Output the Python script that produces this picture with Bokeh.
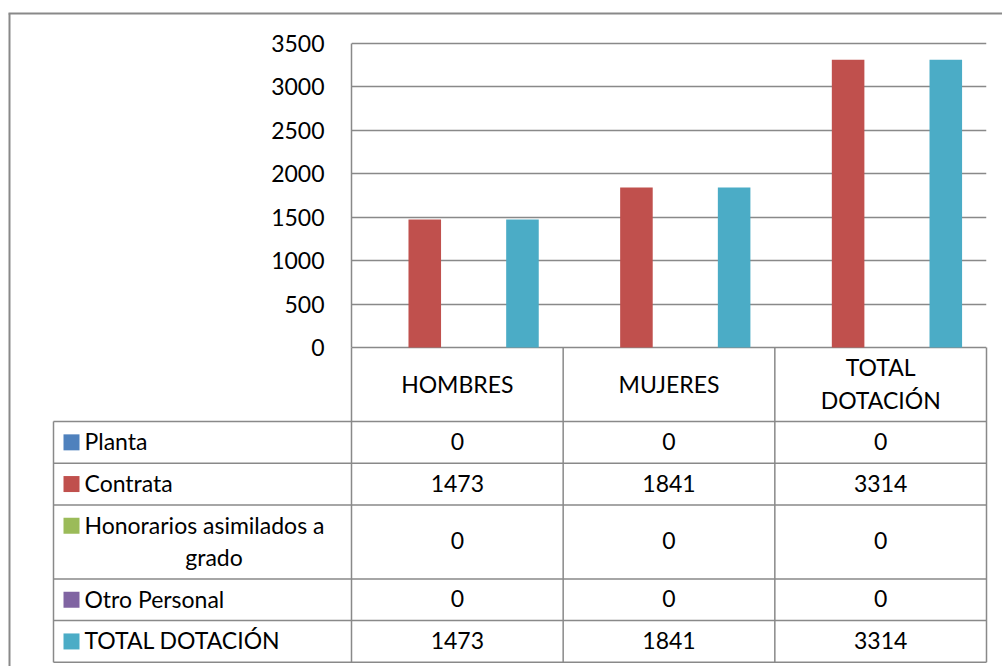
from bokeh.plotting import figure
from bokeh.models import Range1d, FixedTicker, ColumnDataSource
from bokeh.core.properties import value
from bokeh.embed import file_html
from bokeh.resources import INLINE

# ---------------- data ----------------
categories = ["HOMBRES", "MUJERES", "TOTAL DOTACIÓN"]
category_labels = ["HOMBRES", "MUJERES", "TOTAL\nDOTACIÓN"]
series = ["Planta", "Contrata", "Honorarios asimilados a grado", "Otro Personal", "TOTAL DOTACIÓN"]
series_labels = ["Planta", "Contrata", "Honorarios asimilados a\ngrado", "Otro Personal", "TOTAL DOTACIÓN"]
planta = [0, 0, 0]
contrata = [1473, 1841, 3314]
honorarios = [0, 0, 0]
otro_personal = [0, 0, 0]
total_dotacion = [1473, 1841, 3314]
y_ticks = [0, 500, 1000, 1500, 2000, 2500, 3000, 3500]
colors = ["#4F81BD", "#C0504D", "#9BBB59", "#8064A2", "#4BACC6"]

values = [planta, contrata, honorarios, otro_personal, total_dotacion]

# ---------------- layout (page pixels) ----------------
PAGE = 0
W, H = 1002, 666
AX_L, AX_R, AX_T, AX_B = 351, 986, 43, 347      # plot area
FR_T, FR_B = 40, 350                            # frame (a bit taller so edge lines are not clipped)
TABLE_L = 53
HEADER_B = 421
ROW_H1, LINE_STEP = 41.7, 32.3
KEY_X, LABEL_X, LABEL_R = 71, 84, 343
BORDER_L, BORDER_T = 9, 13
TEXT_DY = 1
GRAY = "#898989"
FONT = value("Lato")
FS = "23px"

ncat = len(categories)


def X(px):
    return (px - AX_L) / (AX_R - AX_L) * ncat


def Y(py):
    return (AX_B - py) / (AX_B - AX_T) * y_ticks[-1]


p = figure(width=W, height=H,
           x_range=Range1d(X(AX_L), X(AX_R)),
           y_range=Range1d(Y(FR_B), Y(FR_T)),
           min_border_left=AX_L - PAGE, min_border_right=PAGE + W - AX_R,
           min_border_top=FR_T - PAGE, min_border_bottom=PAGE + H - FR_B,
           output_backend="svg", toolbar_location=None, tools="")
p.outline_line_color = None
p.background_fill_color = "white"
p.border_fill_color = "white"
p.xaxis.visible = False
p.xgrid.visible = False

p.ygrid.ticker = FixedTicker(ticks=y_ticks)
p.ygrid.grid_line_color = GRAY
p.ygrid.grid_line_width = 1.5

ax = p.yaxis[0]
ax.ticker = FixedTicker(ticks=y_ticks)
ax.bounds = (y_ticks[0], y_ticks[-1])
ax.major_tick_out = 0
ax.major_tick_in = 0
ax.minor_tick_out = 0
ax.minor_tick_in = 0
ax.axis_line_color = GRAY
ax.axis_line_width = 1.5
ax.major_label_standoff = 27
ax.major_label_text_font = "Lato"
ax.major_label_text_font_size = FS
ax.major_label_text_color = "black"

# ---------------- bars ----------------
nser = len(series)
bw = 1.0 / (nser + 1.5)
for k, (vals, col) in enumerate(zip(values, colors)):
    xs = [i + 0.5 + (k - (nser - 1) / 2) * bw for i in range(ncat)]
    p.vbar(x=xs, top=vals, bottom=0, width=bw, fill_color=col, line_color=None)

# ---------------- data table ----------------
row_tops = []
row_bots = []
y0 = HEADER_B
for lab in series_labels:
    nl = lab.count("\n") + 1
    h = ROW_H1 + LINE_STEP * (nl - 1)
    row_tops.append(y0)
    row_bots.append(y0 + h)
    y0 += h
TABLE_B = y0

# grid lines of the table
x0s, y0s, x1s, y1s = [], [], [], []
for yb in [HEADER_B] + row_bots:
    x0s.append(X(TABLE_L)); x1s.append(X(AX_R)); y0s.append(Y(yb)); y1s.append(Y(yb))
x0s.append(X(TABLE_L)); x1s.append(X(TABLE_L)); y0s.append(Y(HEADER_B)); y1s.append(Y(TABLE_B))
for i in range(ncat + 1):
    x0s.append(i); x1s.append(i); y0s.append(Y(AX_B)); y1s.append(Y(TABLE_B))
p.segment(x0=x0s, y0=y0s, x1=x1s, y1=y1s, line_color=GRAY, line_width=1.5, level="overlay")

# outer chart border (left and top)
p.segment(x0=[X(BORDER_L), X(BORDER_L - 1)], y0=[Y(BORDER_T), Y(BORDER_T)],
          x1=[X(BORDER_L), X(PAGE + W)], y1=[Y(PAGE + H), Y(BORDER_T)],
          line_color=GRAY, line_width=2, level="overlay")

# header labels (categories), one line per glyph row
hx, hy, ht = [], [], []
for i, lab in enumerate(category_labels):
    lines = lab.split("\n")
    yc = (AX_B + HEADER_B) / 2 - TEXT_DY
    for j, ln in enumerate(lines):
        hx.append(i + 0.5)
        hy.append(Y(yc + (j - (len(lines) - 1) / 2) * LINE_STEP))
        ht.append(ln)
hdr = ColumnDataSource(dict(x=hx, y=hy, t=ht))
p.text(x="x", y="y", text="t", source=hdr, text_font=FONT, text_font_size=FS,
       text_align="center", text_baseline="middle",
       text_color="black", level="overlay")

# cell values
cx, cy, ct = [], [], []
for r, vals in enumerate(values):
    yc = Y((row_tops[r] + row_bots[r]) / 2 - TEXT_DY)
    for i, v in enumerate(vals):
        cx.append(i + 0.5); cy.append(yc); ct.append(str(v))
p.text(x=cx, y=cy, text=ct, text_font=FONT, text_font_size=FS,
       text_align="center", text_baseline="middle", text_color="black", level="overlay")

# legend keys and labels (first line left-aligned, continuation lines centred)
kx, ky, kc = [], [], []
sx, sy, st = [], [], []
mx, my, mt = [], [], []
for r, lab in enumerate(series_labels):
    lines = lab.split("\n")
    nl = len(lines)
    yc = (row_tops[r] + row_bots[r]) / 2
    y_first = yc - LINE_STEP * (nl - 1) / 2
    kx.append(X(KEY_X)); ky.append(Y(y_first)); kc.append(colors[r])
    sx.append(X(LABEL_X)); sy.append(Y(y_first - TEXT_DY)); st.append(lines[0])
    for j, ln in enumerate(lines[1:], start=1):
        mx.append(X((LABEL_X + LABEL_R) / 2)); my.append(Y(y_first + LINE_STEP * j - TEXT_DY)); mt.append(ln)
p.rect(x=kx, y=ky, width=16, height=16, width_units="screen", height_units="screen",
       fill_color=kc, line_color=None, level="overlay")
p.text(x=sx, y=sy, text=st, text_font=FONT, text_font_size=FS,
       text_align="left", text_baseline="middle", text_color="black", level="overlay")
p.text(x=mx, y=my, text=mt, text_font=FONT, text_font_size=FS,
       text_align="center", text_baseline="middle",
       text_color="black", level="overlay")

open("out.html", "w").write(file_html(p, INLINE))
